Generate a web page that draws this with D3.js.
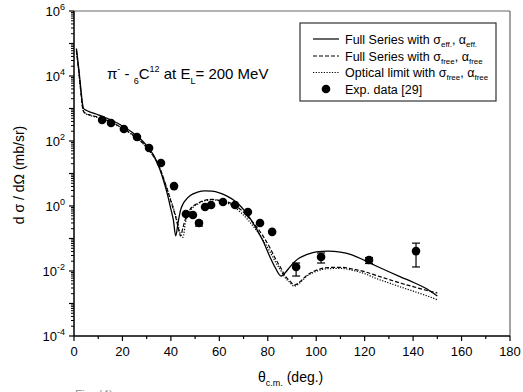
<!DOCTYPE html>
<html><head><meta charset="utf-8">
<script src="https://cdn.jsdelivr.net/npm/d3@7"></script>
<style>
body{margin:0;background:#fff;}
text{font-family:"Liberation Sans",Arial,sans-serif;fill:#000;}
</style></head>
<body><svg id="c" width="523" height="392"></svg>
<script>
const theta = [1,2,3,3.5,4,5,7,10,13,16,20,24,28,31,33.5,35.5,37,38.5,40,41,42,43,44,45,46,48,51,54,57,60,63,66,69,72,75,78,81,83,85.5,87,89,91,93,96,100,105,110,115,120,125,130,135,140,145,150];
const fullEff = [70000,16000,3000,1400,1000,880,760,640,520,420,290,185,105,58,30,13,6,2.4,0.8,0.38,0.12,0.32,0.75,1.15,1.5,2.1,2.65,2.9,2.85,2.55,2.05,1.5,0.95,0.5,0.22,0.085,0.026,0.013,0.007,0.0085,0.013,0.019,0.025,0.032,0.039,0.041,0.038,0.031,0.021,0.014,0.0095,0.0065,0.0045,0.003,0.0017];
const fullFree = [60000,13000,2400,1100,800,700,620,540,450,360,250,160,92,52,28,14,7,3.2,1.4,0.8,0.45,0.22,0.12,0.22,0.4,0.8,1.2,1.5,1.6,1.5,1.35,1.1,0.75,0.45,0.25,0.12,0.05,0.025,0.012,0.0075,0.005,0.0037,0.0045,0.0072,0.0105,0.0128,0.013,0.0115,0.0095,0.0072,0.0055,0.0042,0.0033,0.0026,0.0021];
const optical = [60000,13000,2400,1100,780,680,600,520,440,350,245,155,90,51,28,14,7,3.3,1.5,0.9,0.5,0.26,0.13,0.11,0.3,0.7,1.15,1.45,1.55,1.45,1.25,0.95,0.62,0.36,0.19,0.09,0.038,0.02,0.01,0.0065,0.0045,0.0034,0.0042,0.0068,0.0098,0.0118,0.012,0.0105,0.0083,0.0058,0.0043,0.0032,0.0024,0.0018,0.0013];
const expTheta = [11.6,15.3,20.6,26.0,31.0,35.9,41.3,46.2,49.1,51.6,54.1,56.6,61.5,66.5,71.8,76.8,81.8,91.7,102.0,121.8,141.2];
const expVal   = [443,358,234,133,61,21,4.1,0.57,0.53,0.30,0.93,1.07,1.33,1.07,0.65,0.30,0.16,0.0133,0.027,0.0218,0.041];
const expLo    = [null,null,null,null,null,null,null,null,null,0.24,null,null,null,null,null,null,null,0.0070,0.0176,0.017,0.0133];
const expHi    = [null,null,null,null,null,null,null,null,null,0.34,null,null,null,null,null,null,null,0.0176,0.0358,0.026,0.072];
const xTicks = [0,20,40,60,80,100,120,140,160,180];
const yExps = [-4,-2,0,2,4,6];

const svg = d3.select("#c");
const L=74,R=510,T=11,B=336;
const x = d3.scaleLinear().domain([0,180]).range([L,R]);
const y = d3.scaleLog().domain([1e-4,1e6]).range([B,T]);

// frame (top/right)
svg.append("line").attr("x1",L).attr("x2",R).attr("y1",T).attr("y2",T).attr("stroke","#666").attr("stroke-width",1.2);
svg.append("line").attr("x1",R).attr("x2",R).attr("y1",T).attr("y2",B).attr("stroke","#666").attr("stroke-width",1.2);

// x axis
const xMinor = d3.range(0,181,10);
const gx = svg.append("g");
gx.append("line").attr("x1",L).attr("x2",R).attr("y1",B).attr("y2",B).attr("stroke","#000").attr("stroke-width",1.5);
gx.selectAll(".mn").data(xMinor).join("line").attr("x1",d=>x(d)).attr("x2",d=>x(d)).attr("y1",B).attr("y2",d=>B+(d%20===0?5:3)).attr("stroke","#000").attr("stroke-width",1.2);
gx.selectAll("text").data(xTicks).join("text").attr("x",d=>x(d)).attr("y",B+20).attr("text-anchor","middle").attr("font-size",13).text(d=>d);

// y axis
const gy = svg.append("g");
gy.append("line").attr("x1",L).attr("x2",L).attr("y1",T).attr("y2",B).attr("stroke","#000").attr("stroke-width",1.5);
const yMinor=[];
for(let e=-4;e<6;e++){for(let k=2;k<10;k++)yMinor.push(k*Math.pow(10,e));}
gy.selectAll(".mn").data(yMinor).join("line").attr("x1",L-3).attr("x2",L).attr("y1",d=>y(d)).attr("y2",d=>y(d)).attr("stroke","#000").attr("stroke-width",1);
for(let e=-4;e<=6;e++){gy.append("line").attr("x1",L-5).attr("x2",L).attr("y1",y(Math.pow(10,e))).attr("y2",y(Math.pow(10,e))).attr("stroke","#000").attr("stroke-width",1.2);}
yExps.forEach(e=>{
  const t=gy.append("text").attr("x",L-9).attr("y",y(Math.pow(10,e))+5).attr("text-anchor","end").attr("font-size",13);
  t.append("tspan").text("10");
  t.append("tspan").attr("dy",-6).attr("font-size",9).text(e);
});

// axis labels
const yl = svg.append("text").attr("transform","translate(24,175) rotate(-90)").attr("text-anchor","middle").attr("font-size",14);
yl.text("d σ / dΩ (mb/sr)");
const xl = svg.append("text").attr("x",258).attr("y",382).attr("font-size",14);
xl.append("tspan").text("θ");
xl.append("tspan").attr("dy",4).attr("font-size",9).text("c.m.");
xl.append("tspan").attr("dy",-4).text(" (deg.)");

// curves
const line = d3.line().x((d,i)=>x(theta[i])).y(d=>y(d)).curve(d3.curveMonotoneX);
svg.append("path").attr("d",line(fullEff)).attr("fill","none").attr("stroke","#000").attr("stroke-width",1.3);
svg.append("path").attr("d",line(fullFree)).attr("fill","none").attr("stroke","#000").attr("stroke-width",1.2).attr("stroke-dasharray","4,2");
svg.append("path").attr("d",line(optical)).attr("fill","none").attr("stroke","#000").attr("stroke-width",1.2).attr("stroke-dasharray","1.2,1.5");

// error bars
expTheta.forEach((t,i)=>{
  if(expLo[i]==null) return;
  const g=svg.append("g").attr("stroke","#000").attr("stroke-width",1.2);
  g.append("line").attr("x1",x(t)).attr("x2",x(t)).attr("y1",y(expLo[i])).attr("y2",y(expHi[i]));
  g.append("line").attr("x1",x(t)-4).attr("x2",x(t)+4).attr("y1",y(expLo[i])).attr("y2",y(expLo[i]));
  g.append("line").attr("x1",x(t)-4).attr("x2",x(t)+4).attr("y1",y(expHi[i])).attr("y2",y(expHi[i]));
});
svg.selectAll(".pt").data(expVal).join("circle").attr("cx",(d,i)=>x(expTheta[i])).attr("cy",d=>y(d)).attr("r",4.3).attr("fill","#000");

// title
const tt = svg.append("text").attr("x",107).attr("y",79).attr("font-size",15);
tt.append("tspan").text("π");
tt.append("tspan").attr("dy",-7).attr("font-size",9).text("-");
tt.append("tspan").attr("dy",7).text(" - ");
tt.append("tspan").attr("dy",5).attr("font-size",9).text("6");
tt.append("tspan").attr("dy",-5).text("C");
tt.append("tspan").attr("dy",-7).attr("font-size",9).text("12");
tt.append("tspan").attr("dy",7).text(" at E");
tt.append("tspan").attr("dy",5).attr("font-size",9).text("L");
tt.append("tspan").attr("dy",-5).text("= 200 MeV");

// legend
svg.append("rect").attr("x",300).attr("y",23).attr("width",196).attr("height",78).attr("fill","#fff").attr("stroke","#333").attr("stroke-width",1.2);
const legY=[39,56,72.5,89];
const dashes=[null,"4,2","1.2,1.5"];
const labels=[["Full Series with σ",["eff."],", α",["eff."]],["Full Series with σ",["free"],", α",["free"]],["Optical limit with σ",["free"],", α",["free"]]];
labels.forEach((lb,i)=>{
  const ln=svg.append("line").attr("x1",313).attr("x2",339).attr("y1",legY[i]).attr("y2",legY[i]).attr("stroke","#000").attr("stroke-width",1.2);
  if(dashes[i]) ln.attr("stroke-dasharray",dashes[i]);
  const t=svg.append("text").attr("x",345).attr("y",legY[i]+4.5).attr("font-size",12.5);
  t.append("tspan").text(lb[0]);
  t.append("tspan").attr("dy",3).attr("font-size",8).text(lb[1][0]);
  t.append("tspan").attr("dy",-3).text(lb[2]);
  t.append("tspan").attr("dy",3).attr("font-size",8).text(lb[3][0]);
});
svg.append("circle").attr("cx",326).attr("cy",legY[3]).attr("r",4.3).attr("fill","#000");
svg.append("text").attr("x",345).attr("y",legY[3]+4.5).attr("font-size",12.5).text("Exp. data [29]");

// partially visible caption
svg.append("text").attr("x",75).attr("y",399).attr("font-size",12).style("fill","#999").text("Fig. (4)");
</script></body></html>
